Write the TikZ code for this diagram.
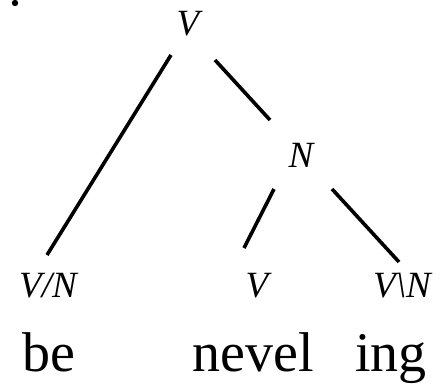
\documentclass[tikz,border=0pt]{standalone}
\usepackage{fontspec}
\setmainfont{Liberation Serif}
\begin{document}
\begin{tikzpicture}[x=1pt,y=1pt,
  lbl/.style={font=\fontsize{37}{40}\selectfont\itshape, inner sep=0pt, anchor=base},
  word/.style={font=\fontsize{56}{60}\selectfont, inner sep=0pt, anchor=base},
  branch/.style={line width=3.6pt, line cap=butt}]
\useasboundingbox (0,0) rectangle (443,384);
\fill (15,381) circle (3.2);
% category labels
\node[lbl] (top) at (188,349) {V};
\node[lbl] (n) at (301,217) {N};
\node[lbl] (vn) at (48,87) {V/N};
\node[lbl] (v) at (257,87) {V};
\node[lbl] (vbn) at (402,87) {V\textbackslash N};
% words
\node[word] (be) at (49,13) {be};
\node[word] (nevel) at (253,13) {nevel};
\node[word] (ing) at (391,13) {ing};
% branch end points
\coordinate (a1) at (171,329);
\coordinate (a2) at (47,129);
\coordinate (b1) at (215,324);
\coordinate (b2) at (270,264);
\coordinate (c1) at (274,195);
\coordinate (c2) at (244,136);
\coordinate (d1) at (332,195);
\coordinate (d2) at (399,122);
\draw[branch] (a1) -- (a2);
\draw[branch] (b1) -- (b2);
\draw[branch] (c1) -- (c2);
\draw[branch] (d1) -- (d2);
\end{tikzpicture}
\end{document}
